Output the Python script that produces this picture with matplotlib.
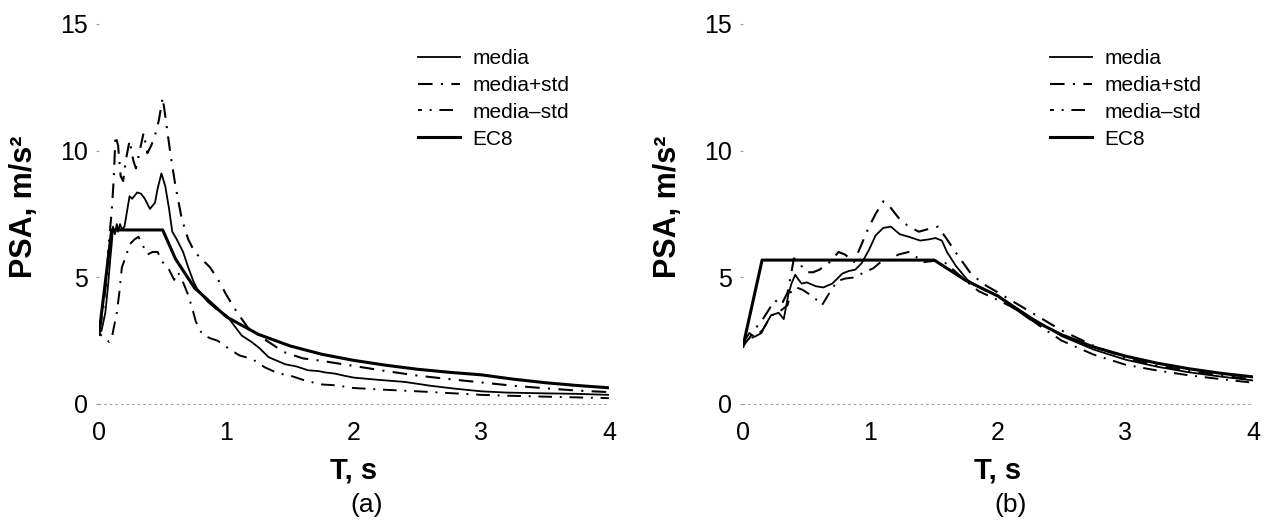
import matplotlib
matplotlib.use("Agg")
import matplotlib.pyplot as plt

plt.rcParams['font.family'] = ['Liberation Sans', 'DejaVu Sans']

# ---- panel (a) ----
ec8_a_T = [0, 0.1, 0.5, 0.6, 0.75, 1.0, 1.25, 1.5, 1.75, 2.0, 2.25, 2.5, 2.75, 3.0, 3.25, 3.5, 3.75, 4.0]
ec8_a = [2.75, 6.87, 6.87, 5.73, 4.58, 3.44, 2.75, 2.29, 1.96, 1.72, 1.53, 1.37, 1.25, 1.15, 0.98, 0.84, 0.73, 0.64]

media_a_T = [0, 0.02, 0.05, 0.07, 0.09, 0.1, 0.11, 0.125, 0.14, 0.15, 0.165, 0.18, 0.2, 0.22, 0.24, 0.26,
             0.3, 0.33, 0.36, 0.4, 0.44, 0.46, 0.49, 0.52, 0.55, 0.575, 0.61, 0.66, 0.7, 0.74, 0.77, 0.85,
             0.92, 1.0, 1.06, 1.12, 1.2, 1.26, 1.33, 1.4, 1.46, 1.55, 1.64, 1.72, 1.78, 1.85, 1.92, 2.0,
             2.2, 2.4, 2.6, 2.8, 3.0, 3.2, 3.5, 3.75, 4.0]
media_a = [2.8, 2.9, 3.6, 4.6, 5.8, 6.3, 7.0, 6.7, 7.1, 6.8, 7.1, 6.9, 7.0, 7.6, 8.2, 8.1,
           8.35, 8.3, 8.1, 7.7, 7.95, 8.5, 9.1, 8.6, 7.7, 6.8, 6.5, 6.0, 5.4, 4.85, 4.55, 4.05,
           3.75, 3.5, 3.1, 2.7, 2.44, 2.2, 1.85, 1.7, 1.57, 1.48, 1.33, 1.3, 1.24, 1.2, 1.12, 1.04,
           0.95, 0.87, 0.72, 0.6, 0.5, 0.45, 0.42, 0.4, 0.36]

plus_a_T = [0, 0.03, 0.06, 0.08, 0.1, 0.115, 0.13, 0.15, 0.17, 0.19, 0.21, 0.24, 0.27, 0.29, 0.32, 0.35,
            0.38, 0.41, 0.44, 0.47, 0.5, 0.53, 0.56, 0.6, 0.65, 0.7, 0.75, 0.8, 0.87, 0.93, 1.0, 1.08,
            1.17, 1.3, 1.45, 1.6, 1.75, 2.0, 2.25, 2.5, 2.75, 3.0, 3.25, 3.5, 3.75, 4.0]
plus_a = [2.9, 3.6, 5.0, 6.5, 7.6, 8.8, 10.6, 10.2, 9.0, 8.8, 9.6, 10.4, 9.6, 9.3, 10.0, 10.7,
          9.9, 10.2, 10.6, 11.2, 12.1, 11.0, 9.9, 8.6, 7.3, 6.5, 6.0, 5.75, 5.4, 4.95, 4.3, 3.64,
          3.0, 2.55, 2.05, 1.8, 1.7, 1.5, 1.3, 1.12, 0.98, 0.85, 0.72, 0.62, 0.53, 0.47]

minus_a_T = [0, 0.04, 0.08, 0.1, 0.12, 0.14, 0.16, 0.18, 0.21, 0.24, 0.28, 0.31, 0.34, 0.38, 0.42, 0.46,
             0.5, 0.55, 0.59, 0.62, 0.66, 0.7, 0.73, 0.76, 0.81, 0.87, 0.93, 1.0, 1.1, 1.2, 1.3, 1.4,
             1.5, 1.62, 1.75, 1.85, 2.0, 2.25, 2.5, 2.75, 3.0, 3.25, 3.5, 3.75, 4.0]
minus_a = [2.8, 2.6, 2.45, 2.6, 3.1, 3.6, 4.4, 5.4, 5.8, 6.3, 6.5, 6.6, 6.3, 5.9, 6.0, 6.0,
           5.6, 5.3, 4.9, 5.2, 4.8, 4.3, 3.8, 3.25, 2.75, 2.6, 2.5, 2.25, 1.92, 1.78, 1.45, 1.22,
           1.12, 0.92, 0.77, 0.74, 0.63, 0.56, 0.5, 0.43, 0.36, 0.32, 0.29, 0.26, 0.23]

# ---- panel (b) ----
ec8_b_T = [0, 0.15, 1.5, 1.75, 2.0, 2.25, 2.5, 2.75, 3.0, 3.25, 3.5, 3.75, 4.0]
ec8_b = [2.27, 5.68, 5.68, 4.87, 4.26, 3.37, 2.73, 2.25, 1.89, 1.61, 1.39, 1.21, 1.07]

media_b_T = [0, 0.05, 0.09, 0.145, 0.18, 0.22, 0.28, 0.32, 0.355, 0.38, 0.41, 0.43, 0.46, 0.5, 0.57, 0.63,
             0.7, 0.78, 0.83, 0.88, 0.93, 0.99, 1.04, 1.1, 1.16, 1.23, 1.3, 1.39, 1.46, 1.51, 1.56, 1.6,
             1.67, 1.76, 1.89, 2.0, 2.25, 2.5, 2.75, 3.0, 3.25, 3.5, 3.75, 4.0]
media_b = [2.4, 2.8, 2.65, 2.8, 3.15, 3.5, 3.6, 3.35, 4.3, 4.75, 5.1, 4.95, 4.75, 4.8, 4.65, 4.6,
           4.75, 5.15, 5.25, 5.3, 5.55, 6.1, 6.65, 6.95, 7.0, 6.7, 6.6, 6.45, 6.5, 6.55, 6.45, 6.0,
           5.45, 4.9, 4.5, 4.28, 3.45, 2.68, 2.15, 1.75, 1.47, 1.25, 1.08, 0.93]

plus_b_T = [0, 0.05, 0.1, 0.15, 0.2, 0.25, 0.3, 0.35, 0.4, 0.45, 0.5, 0.55, 0.6, 0.68, 0.75, 0.8,
            0.87, 0.93, 0.98, 1.04, 1.1, 1.15, 1.22, 1.3, 1.38, 1.45, 1.53, 1.6, 1.68, 1.78, 1.88, 2.0,
            2.1, 2.25, 2.4, 2.5, 2.75, 3.0, 3.25, 3.5, 3.75, 4.0]
plus_b = [2.3, 2.6, 3.0, 3.3, 3.7, 4.1, 3.9, 4.4, 5.75, 5.5, 5.2, 5.2, 5.3, 5.6, 6.0, 5.9,
          5.6, 6.3, 6.9, 7.5, 8.0, 7.8, 7.35, 7.0, 6.8, 6.9, 7.0, 6.5, 5.9, 5.2, 4.75, 4.4,
          4.1, 3.65, 3.2, 2.9, 2.3, 1.82, 1.52, 1.3, 1.12, 0.97]

minus_b_T = [0, 0.05, 0.1, 0.15, 0.2, 0.25, 0.3, 0.35, 0.38, 0.42, 0.47, 0.53, 0.58, 0.62, 0.68, 0.74,
             0.8, 0.88, 0.95, 1.02, 1.08, 1.15, 1.22, 1.3, 1.36, 1.42, 1.5, 1.58, 1.65, 1.75, 1.85, 2.0,
             2.1, 2.2, 2.35, 2.5, 2.75, 3.0, 3.25, 3.5, 3.75, 4.0]
minus_b = [2.3, 2.55, 2.7, 2.9, 3.3, 3.6, 3.7, 3.9, 4.5, 4.6, 4.5, 4.3, 4.1, 3.9, 4.4, 4.85,
           4.95, 5.0, 5.2, 5.35, 5.6, 5.7, 5.9, 6.0, 5.8, 5.6, 5.65, 5.6, 5.3, 4.85, 4.45, 4.1,
           3.85, 3.55, 3.0, 2.5, 1.95, 1.55, 1.32, 1.13, 0.98, 0.84]

labels = ['media', 'media+std', 'media\u2013std', 'EC8']
panels = [
    ('(a)', [0.0781, 0.2231, 0.4025, 0.7308], 0.330,
     (media_a_T, media_a), (plus_a_T, plus_a), (minus_a_T, minus_a), (ec8_a_T, ec8_a)),
    ('(b)', [0.5864, 0.2231, 0.4025, 0.7308], 0.829,
     (media_b_T, media_b), (plus_b_T, plus_b), (minus_b_T, minus_b), (ec8_b_T, ec8_b)),
]

fig = plt.figure(figsize=(12.67, 5.2), dpi=100)

for tag, pos, leg_x, med, plus, minus, ec8 in panels:
    ax = fig.add_axes(pos)
    ax.plot(*med, color='black', lw=1.3, label=labels[0])
    ax.plot(*plus, color='black', lw=1.5, linestyle=(0, (7, 4, 1, 4)), label=labels[1])
    ax.plot(*minus, color='black', lw=1.4, linestyle=(5, (7, 4, 1, 4)), label=labels[2])
    ax.plot(*ec8, color='black', lw=2.2, label=labels[3])

    ax.set_xlim(0, 4)
    ax.set_ylim(0, 15)
    ax.set_xticks([0, 1, 2, 3, 4])
    ax.set_yticks([0, 5, 10, 15])
    for s in ['top', 'right', 'left']:
        ax.spines[s].set_visible(False)
    ax.spines['bottom'].set_linestyle((0, (1, 4)))
    ax.spines['bottom'].set_color('#999999')
    ax.spines['bottom'].set_linewidth(0.8)
    ax.tick_params(axis='x', length=0, pad=12, labelsize=18)
    ax.tick_params(axis='y', length=2, width=0.8, color='#999999', pad=6, labelsize=18)

    ax.set_ylabel('PSA, m/s\u00b2', fontsize=22, fontweight='bold')
    ax.yaxis.set_label_coords(-0.118, 0.52)

    cx = pos[0] + pos[2] / 2
    fig.text(cx, 0.096, 'T, s', ha='center', va='center', fontsize=21, fontweight='bold')
    fig.text(cx + 0.01, 0.029, tag, ha='center', va='center', fontsize=19)

    ax.legend(loc='upper left', bbox_to_anchor=(leg_x, 0.906), bbox_transform=fig.transFigure,
              frameon=False, fontsize=15, borderpad=0, borderaxespad=0,
              handlelength=2.0, handletextpad=0.6, labelspacing=0.38)

fig.savefig('out.png', dpi=100)
